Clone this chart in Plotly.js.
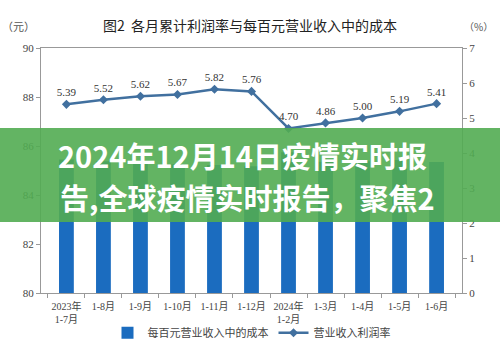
<!DOCTYPE html>
<html>
<head>
<meta charset="utf-8">
<script src="https://cdn.plot.ly/plotly-3.0.1.min.js"></script>
<style>html,body{margin:0;padding:0;background:#fff;}#chart{width:500px;height:354px;}</style>
</head>
<body>
<div id="chart"></div>
<script>
const categories = ["2023年<br>1-7月", "1-8月", "1-9月", "1-10月", "1-11月", "1-12月", "2024年<br>1-2月", "1-3月", "1-4月", "1-5月", "1-6月"];
const costPer100 = [85.45, 85.38, 85.32, 85.26, 85.22, 85.17, 85.75, 85.36, 85.38, 85.43, 85.35];
const profitRate = [5.39, 5.52, 5.62, 5.67, 5.82, 5.76, 4.70, 4.86, 5.00, 5.19, 5.41];
const profitLabels = profitRate.map(v => v.toFixed(2));

const serif = "Liberation Serif, 'Noto Sans CJK SC', serif";
const cjk = "'Noto Sans CJK SC', sans-serif";

const traces = [
  {
    type: 'bar', x: categories, y: costPer100, name: '每百元营业收入中的成本',
    marker: {color: '#1b6cbf'}, width: 0.4, yaxis: 'y'
  },
  {
    type: 'scatter', mode: 'lines+markers+text', x: categories, y: profitRate,
    name: '营业收入利润率', yaxis: 'y2',
    line: {color: '#41709f', width: 2.5},
    marker: {symbol: 'diamond', size: 7, color: '#41709f'},
    text: profitLabels, textposition: 'top center',
    textfont: {family: serif, size: 11, color: '#333'}, cliponaxis: false
  }
];

const layout = {
  width: 500, height: 354,
  margin: {l: 41, r: 38, t: 48, b: 61},
  paper_bgcolor: '#fff', plot_bgcolor: '#fff',
  showlegend: true,
  legend: {orientation: 'h', x: 0.5, xanchor: 'center', yref: 'container', y: 0.06, yanchor: 'middle',
    bgcolor: 'rgba(0,0,0,0)', font: {family: cjk, size: 11, color: '#444'}, traceorder: 'normal'},
  title: {text: '图2  各月累计利润率与每百元营业收入中的成本', x: 0.5, xanchor: 'center', y: 0.94,
    font: {family: cjk, size: 14, color: '#222'}},
  bargap: 0.6,
  xaxis: {type: 'category', showline: true, linecolor: '#999', linewidth: 1, mirror: true,
    ticks: 'outside', tickson: 'boundaries', ticklen: 4, tickcolor: '#999', tickangle: 0,
    ticklabelstandoff: 4,
    tickfont: {family: serif, size: 10, color: '#444'}, showgrid: false, automargin: false},
  yaxis: {range: [80, 90], dtick: 2, showline: true, linecolor: '#999', ticks: 'outside',
    ticklen: 4, tickcolor: '#999', showgrid: false, zeroline: false, automargin: false,
    tickfont: {family: serif, size: 11, color: '#444'}},
  yaxis2: {range: [0, 7], dtick: 1, overlaying: 'y', side: 'right', showline: true,
    linecolor: '#999', ticks: 'outside', ticklen: 4, tickcolor: '#999', showgrid: false,
    zeroline: false, automargin: false, tickfont: {family: serif, size: 11, color: '#444'}},
  shapes: [
    {type: 'rect', xref: 'paper', yref: 'paper', x0: -0.1, x1: 1.1, y0: 0.29, y1: 0.673,
     fillcolor: 'rgba(82,172,82,0.9)', line: {width: 0}, layer: 'above'}
  ],
  annotations: [
    {text: '（元）', xref: 'paper', yref: 'paper', x: -0.01, y: 1.05, xanchor: 'right', yanchor: 'bottom',
     showarrow: false, font: {family: cjk, size: 11, color: '#555'}},
    {text: '（%）', xref: 'paper', yref: 'paper', x: 1.0, y: 1.05, xanchor: 'left', yanchor: 'bottom',
     showarrow: false, font: {family: cjk, size: 10, color: '#555'}},
    {text: '<b>2024年12月14日疫情实时报</b>', xref: 'paper', yref: 'paper', x: 0.035, y: 0.565,
     xanchor: 'left', yanchor: 'middle', showarrow: false,
     font: {family: cjk, size: 29, color: '#ffffff'}},
    {text: '<b>告,全球疫情实时报告，聚焦2</b>', xref: 'paper', yref: 'paper', x: 0.04, y: 0.39,
     xanchor: 'left', yanchor: 'middle', showarrow: false,
     font: {family: cjk, size: 29, color: '#ffffff'}}
  ]
};

Plotly.newPlot('chart', traces, layout, {displayModeBar: false, responsive: false});
</script>
</body>
</html>
